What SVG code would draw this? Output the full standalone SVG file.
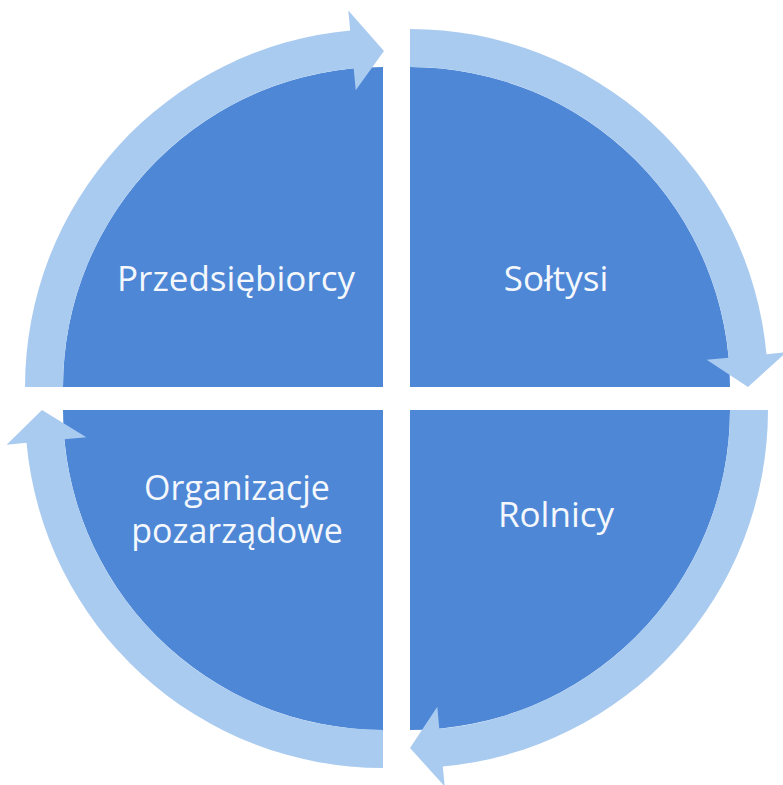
<svg xmlns="http://www.w3.org/2000/svg" width="783" height="785" viewBox="0 0 783 785">
<style>
.sec{fill:#4d87d6}
.arr{fill:#aacbf0}
.lbl{font-family:"Open Sans","Noto Sans",sans-serif;font-size:35px;fill:#f4f7fc;text-anchor:middle}
</style>
<rect width="783" height="785" fill="#ffffff"/>
<g id="n-przedsiebiorcy">
<path class="sec" d="M383,387 L63,387 A320,320 0 0 1 383,67 Z"/>
<text class="lbl" x="236" y="291">Przedsiębiorcy</text>
</g>
<g id="n-soltysi">
<path class="sec" d="M410,387 L410,67 A320,320 0 0 1 730,387 Z"/>
<text class="lbl" x="556" y="291">Sołtysi</text>
</g>
<g id="n-rolnicy">
<path class="sec" d="M410,410 L730,410 A320,320 0 0 1 410,730 Z"/>
<text class="lbl" x="556" y="527">Rolnicy</text>
</g>
<g id="n-organizacje">
<path class="sec" d="M383,410 L383,730 A320,320 0 0 1 63,410 Z"/>
<text class="lbl" x="237" y="500" style="font-size:34px">Organizacje</text>
<text class="lbl" x="237" y="543" style="font-size:34px">pozarządowe</text>
</g>
<g id="connectors">
<path class="arr" d="M25,387 A358,358 0 0 1 350.2,30.5 L348.3,10.6 L384,51 L355.7,90.3 L353.7,68.3 A320,320 0 0 0 63,387 Z"/>
<path class="arr" d="M410,29 A358,358 0 0 1 766.5,354.2 L786.4,352.3 L748,387 L706.7,359.7 L728.7,357.7 A320,320 0 0 0 410,67 Z"/>
<path class="arr" d="M768,410 A358,358 0 0 1 442.8,766.5 L444.7,786.4 L410,748 L437.3,706.7 L439.3,728.7 A320,320 0 0 0 730,410 Z"/>
<path class="arr" d="M383,768 A358,358 0 0 1 26.5,442.8 L6.6,444.7 L42,410 L86.3,437.3 L64.3,439.3 A320,320 0 0 0 383,730 Z"/>
</g>
</svg>
